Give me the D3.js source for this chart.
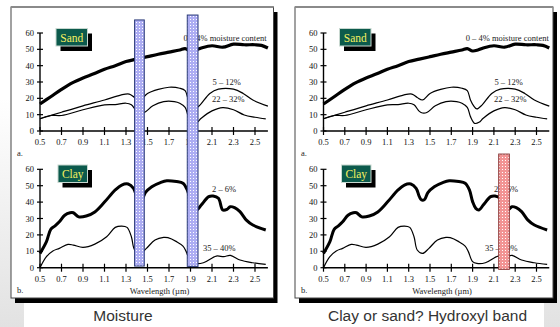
<!DOCTYPE html>
<html>
<head>
<meta charset="utf-8">
<script src="https://cdn.jsdelivr.net/npm/d3@7"></script>
<style>
  html, body { margin: 0; padding: 0; background: #fff; }
  svg { display: block; }
  .tick-label { font-family: "Liberation Serif", "Times New Roman", serif; font-size: 8.5px; fill: #111; }
  .note { font-family: "Liberation Serif", "Times New Roman", serif; font-size: 8.5px; fill: #222; }
  .caption { font-family: "Liberation Sans", Arial, sans-serif; font-size: 15.5px; fill: #333; }
</style>
</head>
<body>
<svg id="chart" width="560" height="327"></svg>
<script>
// ---- data ----
const xTicks = [0.5, 0.7, 0.9, 1.1, 1.3, 1.5, 1.7, 1.9, 2.1, 2.3, 2.5];
const yTicks = [0, 10, 20, 30, 40, 50, 60];

// sand, reflectance (%) vs wavelength (um)
const sandDry = [[0.5,16.5],[0.6,21],[0.7,25.5],[0.8,29.5],[0.9,32.5],[1.0,35],[1.1,37.8],[1.2,40],[1.3,42.5],[1.4,44],
  [1.5,45.5],[1.6,47],[1.7,48.3],[1.8,49.6],[1.85,50.4],[1.9,49],[1.95,49.6],[2.0,50.8],[2.1,52.2],[2.2,51.3],
  [2.3,53.2],[2.4,52.8],[2.5,52.8],[2.56,52.4],[2.62,50.8]];
const sandMid = [[0.5,7.5],[0.7,11.5],[0.9,15.4],[1.1,19],[1.25,22],[1.33,22.6],[1.38,20.5],[1.43,19],[1.5,23],
  [1.6,25.5],[1.7,26.8],[1.8,26.2],[1.85,24.7],[1.88,19],[1.91,15.4],[1.94,13.5],[1.99,16],[2.08,23],[2.16,25.6],
  [2.3,25.6],[2.39,23],[2.48,19],[2.62,15.2]];
const sandWet = [[0.5,7.5],[0.6,9.5],[0.7,9.5],[0.9,13],[1.1,16],[1.2,16.2],[1.3,17],[1.35,16],[1.4,12],[1.43,11],
  [1.47,11.3],[1.55,15.4],[1.65,18],[1.75,18],[1.8,17],[1.85,14.5],[1.88,8.8],[1.92,4.7],[1.96,5.3],[2.0,7.8],
  [2.1,12.3],[2.2,14.3],[2.3,13],[2.4,9.8],[2.5,8.4],[2.6,7.4]];

// clay
const clayDry = [[0.5,8.7],[0.56,15.9],[0.6,23.4],[0.64,25.5],[0.68,28],[0.73,32],[0.78,33.5],[0.81,33.5],[0.86,31],
  [0.93,31.5],[1.01,34],[1.1,40],[1.2,47.4],[1.26,50.4],[1.32,51],[1.37,48.4],[1.4,43.3],[1.42,41.3],[1.45,41.7],
  [1.48,45.8],[1.54,49.4],[1.62,51.9],[1.68,53],[1.77,52.5],[1.83,51.5],[1.87,47.4],[1.9,40.3],[1.93,36.2],
  [1.96,35.2],[2.0,38.2],[2.07,43.3],[2.11,43.7],[2.16,42.3],[2.2,35.2],[2.24,35.6],[2.27,37.2],[2.31,36.6],
  [2.36,34.2],[2.42,29],[2.48,26],[2.6,23]];
const clayWet = [[0.5,0],[0.56,6.7],[0.62,10.2],[0.68,11.8],[0.76,14.2],[0.81,13.8],[0.9,12.4],[1.01,14.4],[1.12,18.9],
  [1.2,24.6],[1.26,25.4],[1.31,24.6],[1.35,18.9],[1.38,10.8],[1.43,8.7],[1.49,11.8],[1.57,16.9],[1.65,18.5],
  [1.69,18.3],[1.77,15.9],[1.83,13.2],[1.86,9.8],[1.9,3.7],[1.94,2.6],[2.02,3],[2.14,7.1],[2.21,6.7],[2.27,7.5],
  [2.36,4.7],[2.48,3],[2.6,2]];

// absorption bands: [from um, to um, top (upper-panel %), bottom (lower-panel %)]
const waterBands = [[1.38, 1.47, 68, 1], [1.87, 1.97, 71, 0.8]];
const hydroxylBands = [[2.145, 2.245, 69.3, -1]];

const captions = ["Moisture", "Clay or sand? Hydroxyl band"];

// ---- layout ----
const svg = d3.select('#chart');
const defs = svg.append('defs');

// small mesh fill for the bands: coloured grid with white cells
function meshPattern(id, bg, dot) {
  const p = defs.append('pattern').attr('id', id).attr('patternUnits', 'userSpaceOnUse')
    .attr('width', 3).attr('height', 3);
  p.append('rect').attr('width', 3).attr('height', 3).attr('fill', bg);
  p.append('rect').attr('x', 1).attr('y', 1).attr('width', 1).attr('height', 1).attr('fill', dot);
}
meshPattern('blueBand', '#adadf3', '#ffffff');
meshPattern('redBand', '#f29494', '#ffffff');

const grad = defs.append('linearGradient').attr('id', 'sideGrey').attr('x1', 0).attr('y1', 0).attr('x2', 0).attr('y2', 1);
grad.append('stop').attr('offset', '0%').attr('stop-color', '#ffffff');
grad.append('stop').attr('offset', '30%').attr('stop-color', '#ffffff');
grad.append('stop').attr('offset', '100%').attr('stop-color', '#e2e2e2');
svg.append('rect').attr('x', 0).attr('y', 0).attr('width', 24).attr('height', 327).attr('fill', 'url(#sideGrey)');
svg.append('rect').attr('x', 544).attr('y', 0).attr('width', 16).attr('height', 327).attr('fill', 'url(#sideGrey)');

const frames = [
  { x: 11, y: 7, w: 262.5, h: 291, xr: [40, 255], labelX: 17, capX: 123 },
  { x: 295, y: 7, w: 258, h: 291, xr: [323.5, 536.5], labelX: 301, capX: 427.5 }
];

frames.forEach((f, i) => {
  svg.append('rect').attr('x', f.x + 4).attr('y', f.y + 5).attr('width', f.w).attr('height', f.h).attr('fill', '#000');
  svg.append('rect').attr('x', f.x).attr('y', f.y).attr('width', f.w).attr('height', f.h)
    .attr('fill', '#fff').attr('stroke', '#444').attr('stroke-width', 1);
  svg.append('line').attr('x1', f.x).attr('x2', f.x + f.w).attr('y1', f.y).attr('y2', f.y)
    .attr('stroke', '#8a8a8a').attr('stroke-width', 2);
  svg.append('text').attr('class', 'caption').attr('x', f.capX).attr('y', 321)
    .attr('text-anchor', 'middle').text(captions[i]);
});

function panel(xr, yr, tag, series, labels, boxX, boxY, boxW) {
  const x = d3.scaleLinear().domain([0.5, 2.5]).range(xr);
  const y = d3.scaleLinear().domain([0, 60]).range(yr);
  const g = svg.append('g');

  // axes
  g.append('line').attr('x1', x(0.5)).attr('x2', x(2.62)).attr('y1', y(0)).attr('y2', y(0))
    .attr('stroke', '#000').attr('stroke-width', 1.4);
  g.append('line').attr('x1', x(0.5)).attr('x2', x(0.5)).attr('y1', y(0)).attr('y2', y(60))
    .attr('stroke', '#000').attr('stroke-width', 1.4);
  g.selectAll('.xt').data(xTicks).join('line')
    .attr('x1', d => x(d)).attr('x2', d => x(d)).attr('y1', y(0) - 4).attr('y2', y(0) + 4)
    .attr('stroke', '#000').attr('stroke-width', 1.2);
  g.selectAll('.xl').data(xTicks).join('text').attr('class', 'tick-label')
    .attr('x', d => x(d)).attr('y', y(0) + 14).attr('text-anchor', 'middle').text(d => d.toFixed(1));
  g.selectAll('.yt').data(yTicks).join('line')
    .attr('x1', x(0.5) - 3).attr('x2', x(0.5) + 3).attr('y1', d => y(d)).attr('y2', d => y(d))
    .attr('stroke', '#000').attr('stroke-width', 1.2);
  g.selectAll('.yl').data(yTicks).join('text').attr('class', 'tick-label')
    .attr('x', x(0.5) - 6).attr('y', d => y(d) + 3).attr('text-anchor', 'end').text(d => d);

  // curves
  const line = d3.line().x(d => x(d[0])).y(d => y(d[1])).curve(d3.curveCatmullRom.alpha(0.5));
  series.forEach(s => {
    g.append('path').attr('d', line(s.data)).attr('fill', 'none')
      .attr('stroke', '#000').attr('stroke-width', s.w).attr('stroke-linejoin', 'round');
  });

  labels.forEach(l => {
    g.append('text').attr('class', 'note').attr('x', x(l.at)).attr('y', y(l.v)).text(l.text);
  });

  // tag box
  g.append('rect').attr('x', boxX + 4.5).attr('y', boxY + 5).attr('width', boxW).attr('height', 17.5).attr('fill', '#000');
  g.append('rect').attr('x', boxX).attr('y', boxY).attr('width', boxW).attr('height', 17.5)
    .attr('fill', '#0c5a4c').attr('stroke', '#c8d8d0').attr('stroke-width', 1);
  g.append('text').attr('x', boxX + boxW / 2).attr('y', boxY + 13).attr('text-anchor', 'middle')
    .attr('font-family', '"Liberation Serif", serif').attr('font-size', 11.5).attr('fill', '#f4f060').text(tag);

  return { x, y };
}

frames.forEach((f, i) => {
  const top = panel(f.xr, [131, 33], 'Sand',
    [{ data: sandDry, w: 3.2 }, { data: sandMid, w: 1.2 }, { data: sandWet, w: 1.2 }],
    [{ text: '0 – 4% moisture content', at: 1.835, v: 55.3 },
     { text: '5 – 12%', at: 2.105, v: 28.2 },
     { text: '22 – 32%', at: 2.1, v: 17.9 }],
    f.xr[0] + 16, 28.5, 31.5);
  const bot = panel(f.xr, [267.7, 169.3], 'Clay',
    [{ data: clayDry, w: 3 }, { data: clayWet, w: 1.2 }],
    [{ text: '2 – 6%', at: 2.1, v: 46.3 },
     { text: '35 – 40%', at: 2.016, v: 10.2 }],
    f.xr[0] + 18, 165, 29.5);

  svg.append('text').attr('class', 'note').attr('x', f.labelX).attr('y', 156).text('a.');
  svg.append('text').attr('class', 'note').attr('x', f.labelX).attr('y', 293).text('b.');
  svg.append('text').attr('class', 'note').attr('x', (f.xr[0] + f.xr[1]) / 2 + 12).attr('y', 294)
    .attr('text-anchor', 'middle').text('Wavelength (µm)');

  const bands = i === 0 ? waterBands : hydroxylBands;
  const fill = i === 0 ? 'url(#blueBand)' : 'url(#redBand)';
  const edge = i === 0 ? '#2a3a78' : '#8a3a3a';
  svg.append('g').selectAll('rect').data(bands).join('rect')
    .attr('x', d => top.x(d[0])).attr('width', d => top.x(d[1]) - top.x(d[0]))
    .attr('y', d => (i === 0 ? top.y(d[2]) : bot.y(d[2])))
    .attr('height', d => bot.y(d[3]) - (i === 0 ? top.y(d[2]) : bot.y(d[2])))
    .attr('fill', fill).attr('stroke', edge).attr('stroke-width', 1);
});
</script>
</body>
</html>
